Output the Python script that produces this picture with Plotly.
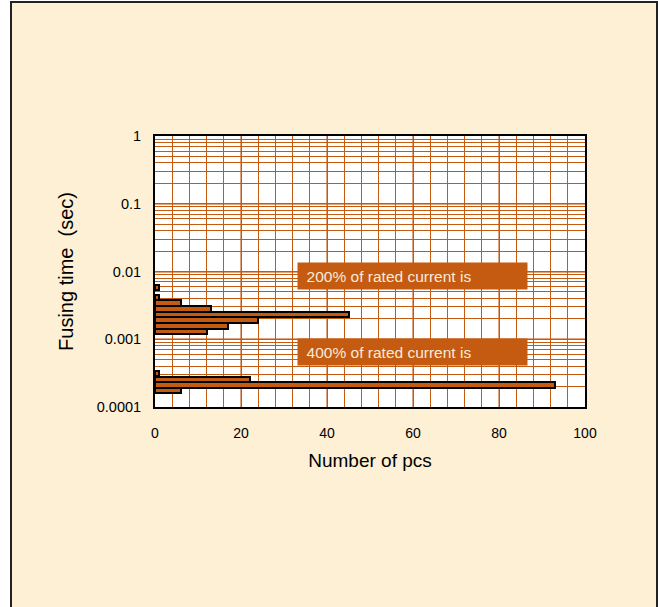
import plotly.graph_objects as go

# ---- data ----
# fusing-time bins (sec) and counts for 200% rated current
t200 = [0.00581, 0.00413, 0.00340, 0.00280, 0.00232, 0.00192, 0.00157, 0.00130]
n200 = [1, 1, 6, 13, 45, 24, 17, 12]
# fusing-time bins (sec) and counts for 400% rated current
t400 = [0.000314, 0.000256, 0.000211, 0.000174]
n400 = [1, 22, 93, 6]

x_ticks = [0, 20, 40, 60, 80, 100]
y_tickvals = [1, 0.1, 0.01, 0.001, 0.0001]
y_ticktext = ["1", "0.1", "0.01", "0.001", "0.0001"]
labels = ["200% of rated current is", "400% of rated current is"]

ORANGE = "#C55A11"
CREAM = "#FDF0D5"
FONT = "Liberation Sans, Arial, sans-serif"

W, H = 658, 607
L, R, T, B = 155, 73, 136, 200
PW, PH = W - L - R, H - T - B

# bar thickness in decades on the log axis
h = 0.082


def bar_geom(ts):
    offs = [t * (10 ** (-h / 2) - 1) for t in ts]
    wids = [t * (10 ** (h / 2) - 10 ** (-h / 2)) for t in ts]
    return offs, wids


fig = go.Figure()
for ts, ns in [(t200, n200), (t400, n400)]:
    offs, wids = bar_geom(ts)
    fig.add_trace(go.Bar(
        x=ns, y=ts, orientation="h", offset=offs, width=wids,
        marker=dict(color=ORANGE, line=dict(color="black", width=2)),
        showlegend=False, hoverinfo="x+y",
    ))


def px_x(p):
    return (p - L) / PW


def px_y(p):
    return (H - B - p) / PH


shapes = [
    # cream framed panel
    dict(type="rect", xref="paper", yref="paper", layer="below",
         x0=px_x(11), x1=px_x(657), y0=px_y(612), y1=px_y(2),
         fillcolor=CREAM, line=dict(color="#222222", width=2)),
    # white plot area
    dict(type="rect", xref="paper", yref="paper", layer="below",
         x0=0, x1=1, y0=0, y1=1, fillcolor="white", line=dict(width=0)),
]

annotations = []
for lab, ytop in zip(labels, [262, 338]):
    annotations.append(dict(
        xref="paper", yref="paper", x=px_x(297), y=px_y(ytop),
        xanchor="left", yanchor="top",
        text="\u00a0\u00a0" + lab, showarrow=False,
        bgcolor=ORANGE, width=229, height=26, align="left", borderpad=0,
        font=dict(family=FONT, size=15.5, color="#F8EBDD"),
    ))

fig.update_layout(
    width=W, height=H,
    margin=dict(l=L, r=R, t=T, b=B, pad=0),
    paper_bgcolor="white", plot_bgcolor="white",
    font=dict(family=FONT, size=12, color="black"),
    shapes=shapes, annotations=annotations,
    bargap=0,
    xaxis=dict(
        range=[0, 100], tickvals=x_ticks, showgrid=True,
        gridcolor="rgba(197,90,17,0.55)", gridwidth=2,
        minor=dict(dtick=4, showgrid=True, gridcolor=ORANGE, gridwidth=1),
        zeroline=False, showline=True, linecolor="black", linewidth=2, mirror=True,
        ticks="outside", ticklen=12, tickcolor="rgba(0,0,0,0)",
        tickfont=dict(size=14),
        title=dict(text="Number of pcs", font=dict(size=19), standoff=14),
    ),
    yaxis=dict(
        type="log", range=[-4, 0], tickvals=y_tickvals, ticktext=y_ticktext,
        showgrid=True, gridcolor="rgba(197,90,17,0.55)", gridwidth=2,
        minor=dict(dtick="D1", showgrid=True, gridcolor=ORANGE, gridwidth=1),
        zeroline=False, showline=True, linecolor="black", linewidth=2, mirror=True,
        ticks="outside", ticklen=9, tickcolor="rgba(0,0,0,0)",
        tickfont=dict(size=14.5),
        title=dict(text="Fusing time\u00a0\u00a0(sec)", font=dict(size=20), standoff=18),
    ),
)

fig.write_html(
    "out.html",
    config={"displayModeBar": False},
    post_script="document.body.style.margin='0';document.body.style.padding='0';",
)
